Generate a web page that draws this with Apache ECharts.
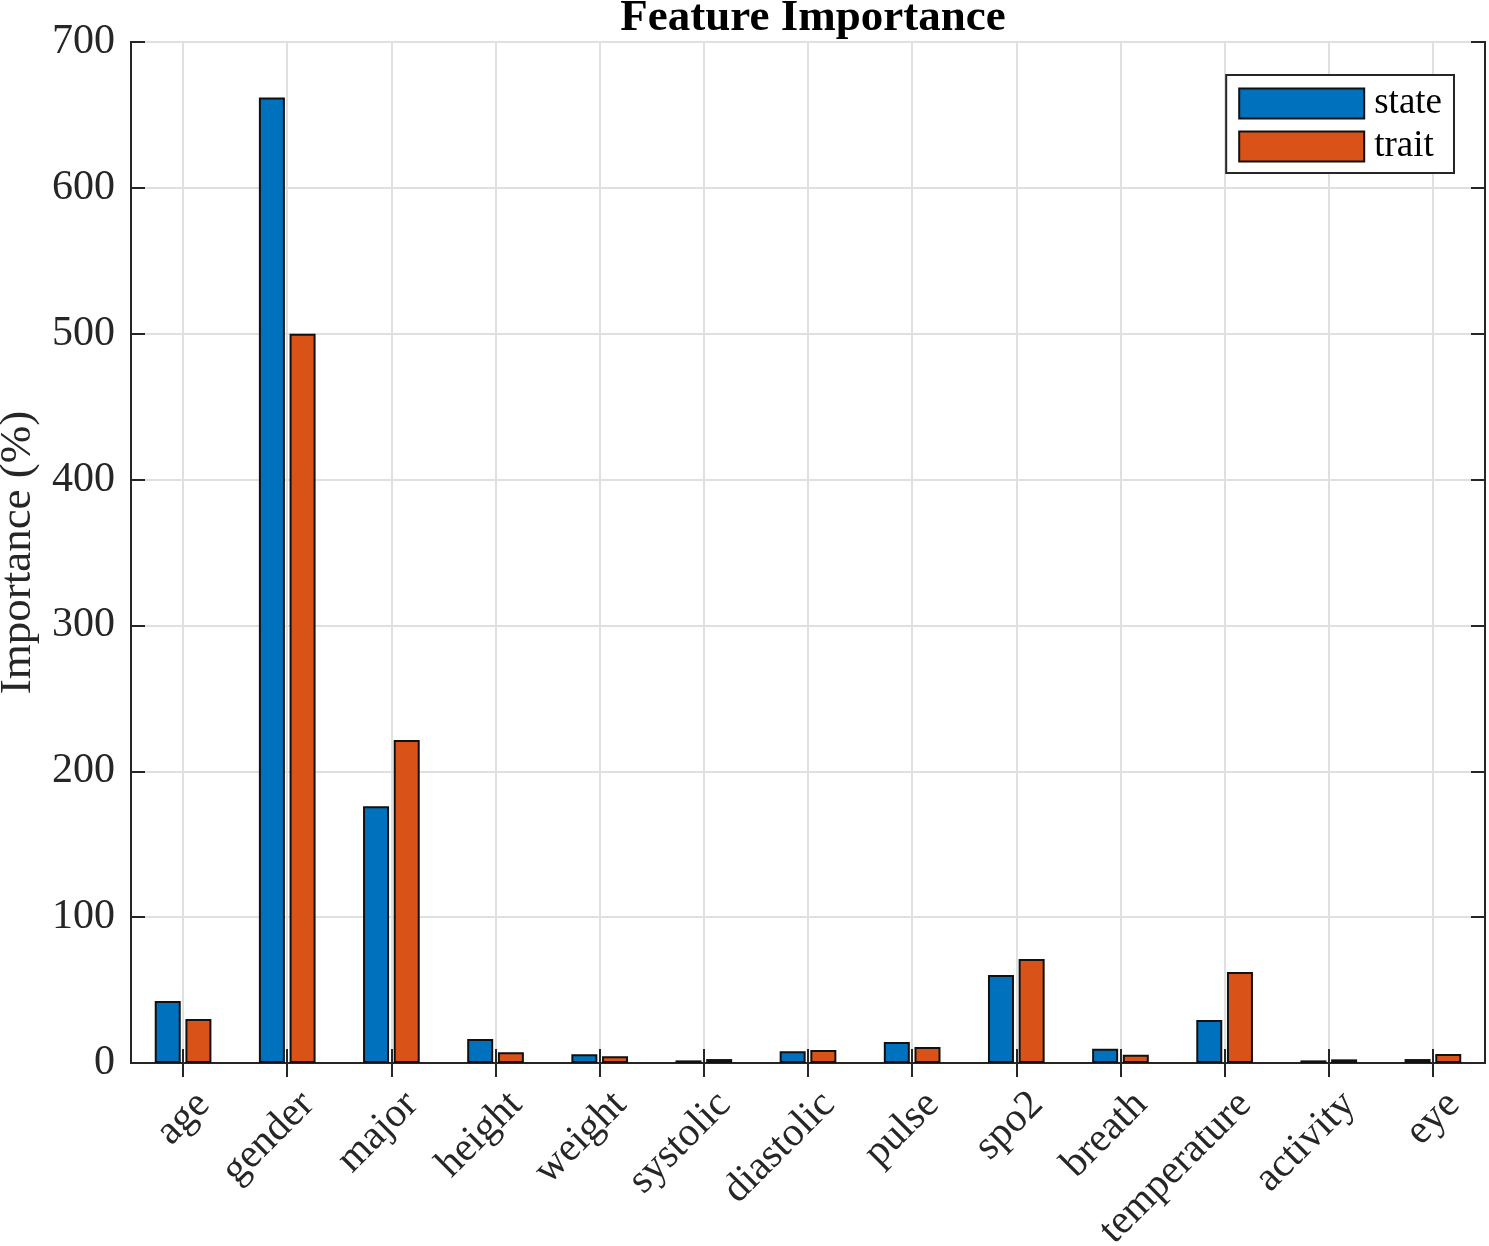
<!DOCTYPE html>
<html>
<head>
<meta charset="utf-8">
<script src="https://cdn.jsdelivr.net/npm/echarts@6/dist/echarts.min.js"></script>
<style>
  html, body { margin: 0; padding: 0; background: #fff; }
  #chart { width: 1489px; height: 1246px; }
</style>
</head>
<body>
<div id="chart"></div>
<script>
// feature names on the x axis
const features = ['age', 'gender', 'major', 'height', 'weight', 'systolic', 'diastolic',
  'pulse', 'spo2', 'breath', 'temperature', 'activity', 'eye'];
// values (%)
const stateValues = [42.5, 662, 176, 16.5, 6, 1.8, 8, 14.4, 60.3, 9.8, 29.5, 1.8, 2.7];
const traitValues = [30.2, 500, 221.5, 7.3, 4.6, 2.7, 8.9, 11, 71.3, 5.7, 62.4, 2.5, 6.2];
const yTicks = [0, 100, 200, 300, 400, 500, 600, 700];

const font = 'Liberation Serif';
const dark = '#262626';

const chart = echarts.init(document.getElementById('chart'));

const option = {
  backgroundColor: '#fff',
  animation: false,
  title: {
    text: 'Feature Importance',
    left: 808,
    textAlign: 'center',
    top: -9,
    textStyle: { fontFamily: font, fontWeight: 'bold', fontSize: 45, color: '#000' }
  },
  legend: {
    data: ['state', 'trait'],
    orient: 'vertical',
    right: 35,
    top: 75,
    icon: 'rect',
    itemWidth: 125,
    itemHeight: 30,
    itemGap: 6,
    padding: [10, 12, 8, 12],
    borderColor: dark,
    borderWidth: 2,
    backgroundColor: '#fff',
    textStyle: { fontFamily: font, fontSize: 37, color: '#000', lineHeight: 30, padding: [0, 0, 0, 5] }
  },
  grid: {
    left: 131, right: 4, top: 42, bottom: 183,
    outerBoundsMode: 'none',
    show: true, borderColor: dark, borderWidth: 2, backgroundColor: 'transparent'
  },
  xAxis: [
    {
      type: 'category',
      data: features,
      position: 'bottom',
      axisLine: { show: true, lineStyle: { color: dark, width: 2 } },
      axisTick: { show: true, inside: true, alignWithLabel: true, length: 14, lineStyle: { color: dark, width: 2 } },
      splitLine: { show: true, alignWithLabel: true, lineStyle: { color: '#e0e0e0', width: 2 } },
      axisLabel: {
        rotate: 45, fontFamily: font, fontSize: 41, color: '#262626',
        margin: 15, interval: 0, verticalAlign: 'top', lineHeight: 58
      }
    },
    {
      type: 'category',
      data: features,
      position: 'top',
      axisLine: { show: true, lineStyle: { color: dark, width: 2 } },
      axisTick: { show: true, inside: true, alignWithLabel: true, length: 14, lineStyle: { color: dark, width: 2 } },
      axisLabel: { show: false },
      splitLine: { show: false }
    }
  ],
  yAxis: [
    {
      type: 'value',
      min: 0, max: 700, interval: 100,
      name: 'Importance (%)',
      nameLocation: 'middle',
      nameGap: 88,
      nameTextStyle: { fontFamily: font, fontSize: 45, color: '#262626' },
      axisLine: { show: true, lineStyle: { color: dark, width: 2 } },
      axisTick: { show: true, inside: true, length: 14, lineStyle: { color: dark, width: 2 } },
      splitLine: { show: true, lineStyle: { color: '#e0e0e0', width: 2 } },
      axisLabel: {
        fontFamily: font, fontSize: 42, color: '#262626', margin: 16,
        formatter: v => yTicks.includes(v) ? String(v) : ''
      }
    },
    {
      type: 'value',
      min: 0, max: 700, interval: 100,
      position: 'right',
      axisLine: { show: true, lineStyle: { color: dark, width: 2 } },
      axisTick: { show: true, inside: true, length: 14, lineStyle: { color: dark, width: 2 } },
      splitLine: { show: false },
      axisLabel: { show: false }
    }
  ],
  series: [
    {
      name: 'state',
      type: 'bar',
      data: stateValues,
      barWidth: 26,
      barGap: '18%',
      itemStyle: { color: '#0072BD', borderColor: '#111', borderWidth: 2 }
    },
    {
      name: 'trait',
      type: 'bar',
      data: traitValues,
      barWidth: 26,
      barGap: '18%',
      itemStyle: { color: '#D95319', borderColor: '#111', borderWidth: 2 }
    }
  ]
};

chart.setOption(option);
</script>
</body>
</html>
